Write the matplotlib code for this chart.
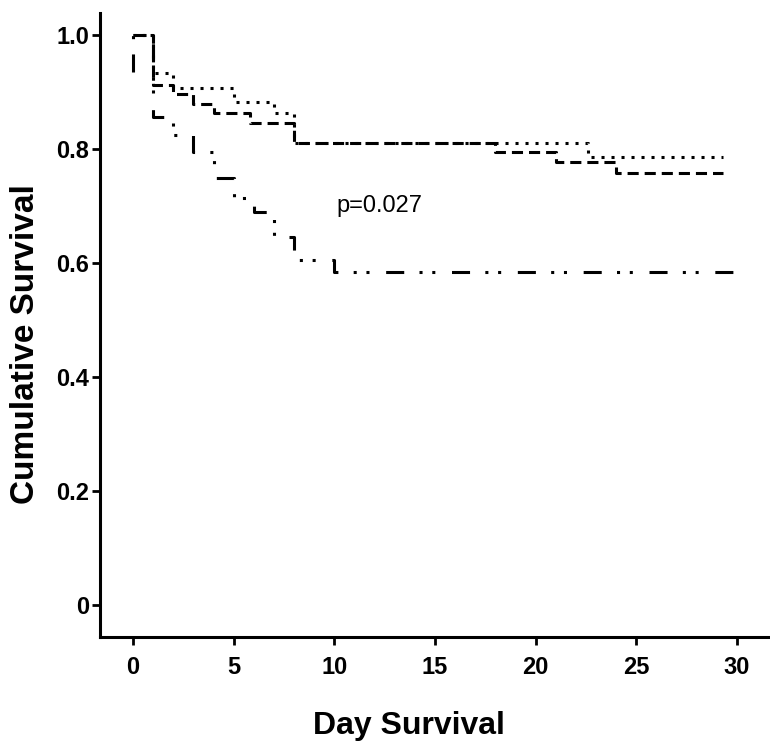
import matplotlib
matplotlib.use("Agg")
import matplotlib.pyplot as plt

# survival curves (steps-post)
days_a = [0, 1, 2, 5, 7, 8, 22.6, 29.3]
surv_a = [1.0, 0.933, 0.907, 0.882, 0.863, 0.81, 0.786, 0.786]

days_b = [0, 1, 2, 3, 4, 5.8, 8, 18, 21, 24, 29.3]
surv_b = [1.0, 0.912, 0.897, 0.88, 0.863, 0.846, 0.81, 0.795, 0.777, 0.758, 0.758]

# third curve starts with a short mark at day 0 (as drawn in the original)
days_c = [0, 0, 1, 2, 3, 4, 5, 6, 7, 8, 10, 30]
surv_c = [0.935, 1.0, 0.856, 0.825, 0.795, 0.75, 0.715, 0.69, 0.645, 0.605, 0.585, 0.575]

x_ticks = [0, 5, 10, 15, 20, 25, 30]
y_ticks = [0, 0.2, 0.4, 0.6, 0.8, 1.0]
y_tick_labels = ["0", "0.2", "0.4", "0.6", "0.8", "1.0"]
p_text = "p=0.027"

plt.rcParams['lines.scale_dashes'] = False
narrow = ['Liberation Sans Narrow', 'Liberation Sans', 'DejaVu Sans']
wide = ['Liberation Sans', 'DejaVu Sans']

fig = plt.figure(figsize=(7.7, 7.48), dpi=100)
ax = fig.add_axes([0.1299, 0.1484, 0.87, 0.834])

lw = 2.2
ax.plot(days_a, surv_a, drawstyle='steps-post', color='black', lw=lw,
        dashes=(2.2, 5.0), dash_capstyle='butt')
ax.plot(days_b, surv_b, drawstyle='steps-post', color='black', lw=lw,
        dashes=(8.0, 4.3), dash_capstyle='butt')
ax.plot(days_c, surv_c, drawstyle='steps-post', color='black', lw=lw,
        dashes=(13, 11, 2.2, 7, 2.2, 12), dash_capstyle='butt')

ax.text(10.1, 0.70, p_text, fontsize=17, family=wide, va='center', ha='left')

ax.set_xlim(-1.64, 31.64)
ax.set_ylim(-0.056, 1.0386)
ax.set_xticks(x_ticks)
ax.set_yticks(y_ticks)
ax.set_yticklabels(y_tick_labels)

for s in ['top', 'right']:
    ax.spines[s].set_visible(False)
for s in ['left', 'bottom']:
    ax.spines[s].set_linewidth(2.2)

ax.tick_params(axis='both', direction='out', width=2.0, length=6)
ax.tick_params(axis='x', pad=8)
ax.tick_params(axis='y', pad=2)
for lab in ax.get_xticklabels() + ax.get_yticklabels():
    lab.set_family(narrow)
    lab.set_fontweight('bold')
    lab.set_fontsize(17)

fig.text(0.531, 0.03, "Day Survival", fontsize=23, fontweight='bold',
         family=wide, ha='center', va='center')
fig.text(0.033, 0.54, "Cumulative Survival", fontsize=24, fontweight='bold',
         family=wide, ha='center', va='center', rotation=90)

fig.savefig("out.png", dpi=100)
